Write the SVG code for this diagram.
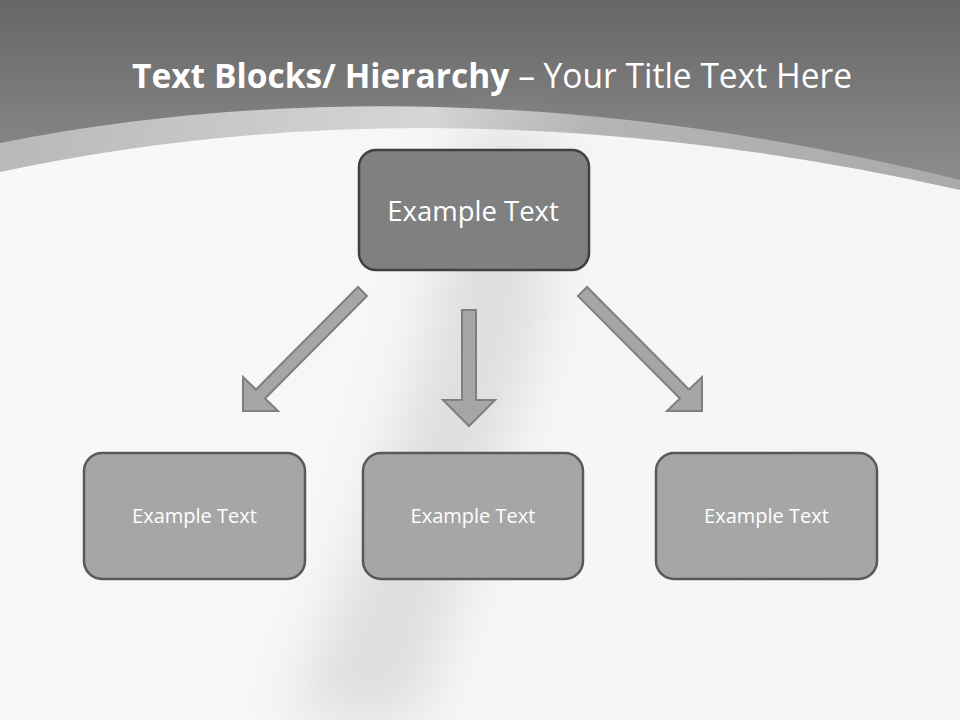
<svg xmlns="http://www.w3.org/2000/svg" width="960" height="720" viewBox="0 0 960 720">
  <defs>
    <linearGradient id="topg" x1="0" y1="0" x2="0" y2="1">
      <stop offset="0" stop-color="#666666"/>
      <stop offset="1" stop-color="#959595"/>
    </linearGradient>
    <linearGradient id="bandg" x1="0" y1="0" x2="1" y2="0">
      <stop offset="0" stop-color="#b8b8b8"/>
      <stop offset="0.45" stop-color="#d6d6d6"/>
      <stop offset="0.62" stop-color="#b4b4b4"/>
      <stop offset="1" stop-color="#ababab"/>
    </linearGradient>
    <linearGradient id="whiteg" x1="0" y1="0" x2="1" y2="0">
      <stop offset="0" stop-color="#f8f8f8"/>
      <stop offset="1" stop-color="#f5f5f5"/>
    </linearGradient>
    <filter id="blur" x="-50%" y="-20%" width="200%" height="140%">
      <feGaussianBlur stdDeviation="28"/>
    </filter>
    <style>
      .top { fill:#808080; stroke:#404040; stroke-width:2.5; }
      .sub { fill:#a6a6a6; stroke:#595959; stroke-width:2.5; }
      .arr { fill:#a6a6a6; stroke:#7f7f7f; stroke-width:2; stroke-linejoin:miter; }
      .lbl { font-family:"Open Sans","Noto Sans",sans-serif; fill:#ffffff; text-anchor:middle; }
    </style>
  </defs>

  <!-- background -->
  <rect x="0" y="0" width="960" height="720" fill="#f7f7f7"/>
  <rect x="0" y="0" width="960" height="220" fill="url(#topg)"/>
  <path d="M0,143 Q450,54 960,180 L960,720 L0,720 Z" fill="url(#bandg)"/>
  <path d="M0,172 Q450,76 960,190 L960,720 L0,720 Z" fill="url(#whiteg)"/>
  <g filter="url(#blur)" opacity="0.35">
    <path d="M460,135 L560,135 L540,330 L480,520 L420,720 L290,720 L370,520 L430,330 Z" fill="#b0b0b0"/>
  </g>

  <!-- title -->
  <text x="492" y="88" font-family="Open Sans, Noto Sans, sans-serif" font-size="34" fill="#ffffff" text-anchor="middle" textLength="720" lengthAdjust="spacingAndGlyphs"><tspan font-weight="bold">Text Blocks/ Hierarchy</tspan> – Your Title Text Here</text>

  <!-- connectors -->
  <g id="connectors">
    <polygon class="arr" points="358,287 367,296 265,398.5 278,411 243,411 243,377 256,389.5"/>
    <polygon class="arr" points="462,310 476,310 476,400 495,400 469,426 443,400 462,400"/>
    <polygon class="arr" points="587,287 578,296 680,398.5 667,411 702,411 702,377 689,389.5"/>
  </g>

  <!-- nodes -->
  <g id="node-top">
    <rect class="top" x="359" y="150" width="230" height="120" rx="17"/>
    <text class="lbl" x="473" y="221" font-size="27.5">Example Text</text>
  </g>
  <g id="node-left">
    <rect class="sub" x="84" y="453" width="221" height="126" rx="18"/>
    <text class="lbl" x="194.5" y="523" font-size="20">Example Text</text>
  </g>
  <g id="node-middle">
    <rect class="sub" x="363" y="453" width="220" height="126" rx="18"/>
    <text class="lbl" x="473" y="523" font-size="20">Example Text</text>
  </g>
  <g id="node-right">
    <rect class="sub" x="656" y="453" width="221" height="126" rx="18"/>
    <text class="lbl" x="766.5" y="523" font-size="20">Example Text</text>
  </g>
</svg>
